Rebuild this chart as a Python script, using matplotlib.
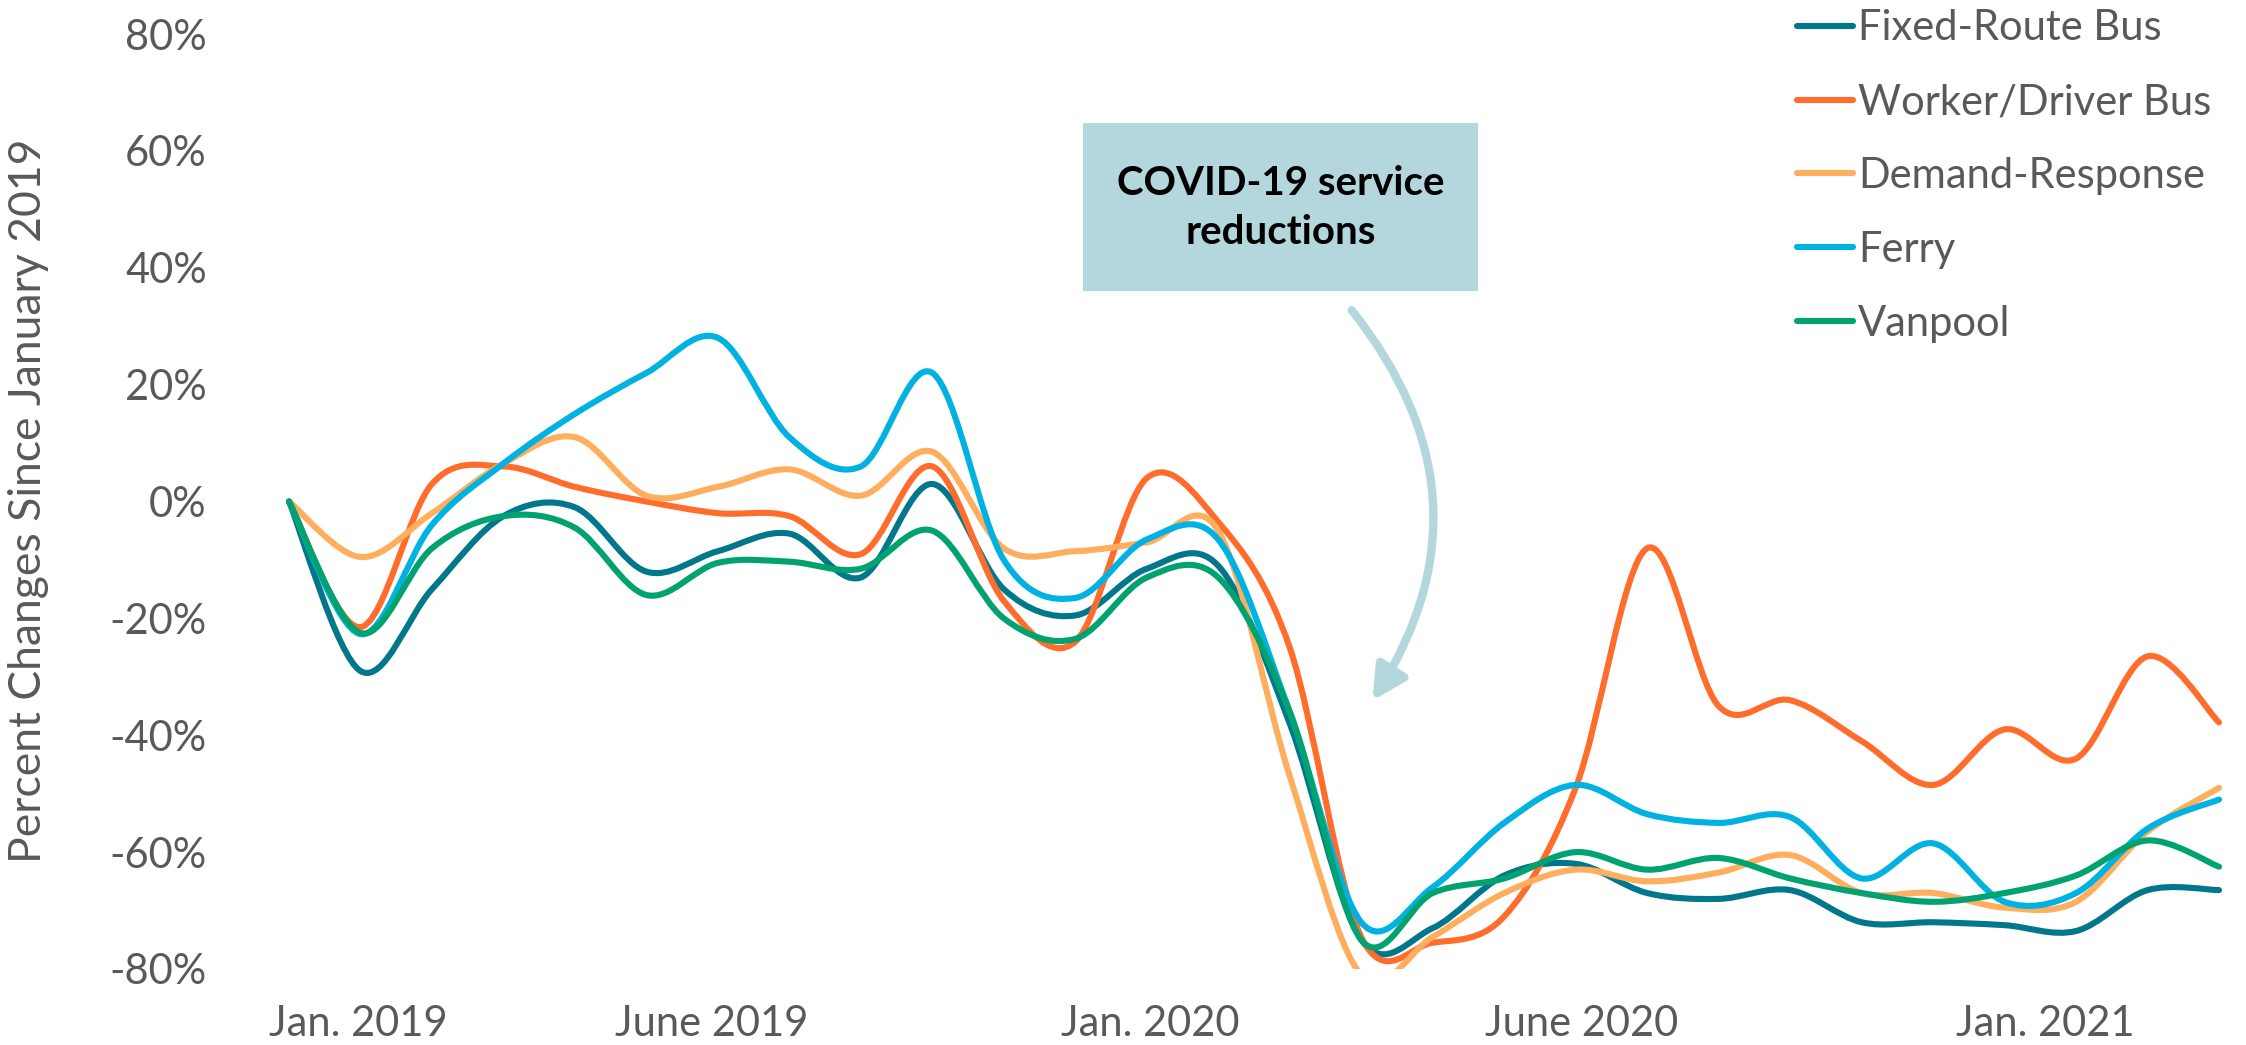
import numpy as np
import pandas as pd
import matplotlib
matplotlib.use("Agg")
import matplotlib.pyplot as plt
from matplotlib.path import Path
from matplotlib.patches import PathPatch, FancyArrowPatch, Rectangle
from matplotlib.lines import Line2D

# monthly observations, Jan 2019 .. Apr 2021 (percent change vs Jan 2019)
months = pd.date_range("2019-01-01", periods=28, freq="MS")

fixed_route = [0, -29, -15, -2.5, -1, -12, -8.5, -5.5, -13, 3, -15, -19.5, -11.5, -11,
               -38, -75, -73, -64, -62, -67, -68, -66.5, -72, -72, -72.5, -73.5, -66.5, -66.5]
worker_driver = [0, -21.5, 3, 6, 2.5, 0, -2, -2.5, -9, 6, -17, -24, 4, -3.5,
                 -25, -74.5, -75.5, -71, -49, -8, -35, -34, -41, -48.5, -39, -44, -26.5, -37.8]
demand_response = [0, -9.5, -2, 6.5, 11, 1, 2.5, 5.5, 1, 8.5, -8, -8.5, -7, -5,
                   -47, -81, -74.5, -67, -63, -65, -63.5, -60.5, -67, -67, -69.5, -68.5, -56.5, -49]
ferry = [0, -22.7, -4, 6.5, 15, 22, 28, 11, 6, 22, -10, -16.5, -6.5, -6.5,
         -36, -72, -66, -55, -48.5, -53.5, -55, -54, -64.5, -58.5, -68.5, -67, -56, -51]
vanpool = [0, -22.5, -8, -2.5, -4.5, -16, -10.5, -10.3, -11.5, -5, -20, -23.5, -13, -13,
           -36, -75, -67, -64.5, -60, -63, -61, -64.5, -67, -68.5, -67, -64, -58, -62.5]

series_names = ["Fixed-Route Bus", "Worker/Driver Bus", "Demand-Response", "Ferry", "Vanpool"]
series_values = [fixed_route, worker_driver, demand_response, ferry, vanpool]
colors = ["#00778B", "#FF6C2C", "#FFAE5E", "#00B2E2", "#00A36F"]

tick_labels = ["Jan. 2019", "June 2019", "Jan. 2020", "June 2020", "Jan. 2021"]
y_ticks = [-80, -60, -40, -20, 0, 20, 40, 60, 80]

# where the reference puts its date labels (in month index units)
tick_pos = [0.97, 5.92, 12.05, 18.08, 24.57]

TEXT = "#595959"
FS = 30
plt.rcParams["font.family"] = ["Lato", "DejaVu Sans"]


def smooth_path(x, y):
    # Excel-like smoothed line: Catmull-Rom through the points as cubic Beziers
    pts = np.column_stack([np.asarray(x, float), np.asarray(y, float)])
    ext = np.vstack([pts[0], pts, pts[-1]])
    verts = [pts[0]]
    codes = [Path.MOVETO]
    for i in range(len(pts) - 1):
        p0, p1, p2, p3 = ext[i], ext[i + 1], ext[i + 2], ext[i + 3]
        verts += [p1 + (p2 - p0) / 6, p2 - (p3 - p1) / 6, p2]
        codes += [Path.CURVE4] * 3
    return Path(verts, codes)


W, H = 2246, 1045
fig = plt.figure(figsize=(W / 100, H / 100), dpi=100)

x0, x1 = 289, 2219       # pixel x of first / last month
ytop, ybot = 34, 969     # pixel y of 80% / -80%
n = len(months)
step = (x1 - x0) / (n - 1)
pad = 0.1
left = (x0 - pad * step) / W
width = (x1 - x0 + 2 * pad * step) / W
ax = fig.add_axes([left, (H - ybot) / H, width, (ybot - ytop) / H])

xs = np.arange(n)
for vals, c in zip(series_values, colors):
    patch = PathPatch(smooth_path(xs, vals), facecolor="none", edgecolor=c,
                      lw=4.4, capstyle="round", joinstyle="round")
    ax.add_patch(patch)

ax.set_xlim(-pad, n - 1 + pad)
ax.set_ylim(-80, 80)
ax.set_yticks(y_ticks)
ax.set_yticklabels([f"{v}%" for v in y_ticks])
ax.set_xticks(tick_pos)
ax.set_xticklabels(tick_labels)
ax.tick_params(axis="y", length=0, pad=54, labelsize=FS, labelcolor=TEXT)
ax.tick_params(axis="x", length=0, pad=26, labelsize=FS, labelcolor=TEXT)
for s in ax.spines.values():
    s.set_visible(False)
ax.patch.set_alpha(0)

fig.text(29 / W, 1 - 501 / H, "Percent Changes Since January 2019", rotation=90,
         ha="center", va="center", fontsize=32, color=TEXT)

handles = [Line2D([], [], color=c, lw=4.4, solid_capstyle="round") for c in colors]
fig.legend(handles, series_names, loc="upper left", bbox_to_anchor=(1797 / W, 0.991),
           frameon=False, fontsize=FS, labelcolor=TEXT, handlelength=1.35,
           handletextpad=0.12, labelspacing=0.86, borderpad=0, borderaxespad=0)

# annotation box + curved arrow
bx0, by0, bx1, by1 = 1083, 123, 1478, 291
fig.patches.append(Rectangle((bx0 / W, 1 - by1 / H), (bx1 - bx0) / W, (by1 - by0) / H,
                             transform=fig.transFigure, facecolor="#B4D7DD",
                             edgecolor="none", zorder=1))
fig.text((bx0 + bx1) / 2 / W, 1 - 208 / H, "COVID-19 service\nreductions", ha="center",
         va="center", fontsize=29, fontweight="bold", color="black", linespacing=1.4,
         zorder=2)
arrow = FancyArrowPatch((1350 / W, 1 - 308 / H), (1371 / W, 1 - 703 / H),
                        transform=fig.transFigure, connectionstyle="arc3,rad=-0.36",
                        arrowstyle="-|>,head_length=0.5,head_width=0.26",
                        mutation_scale=40, lw=6, color="#B4D7DD")
fig.patches.append(arrow)

fig.savefig("out.png", dpi=100)
